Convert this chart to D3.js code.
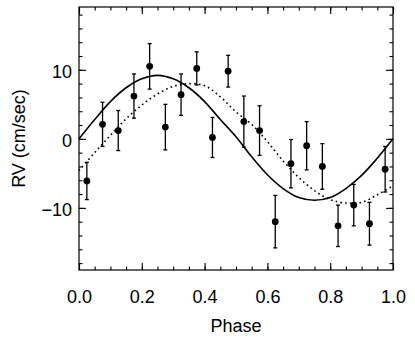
<!DOCTYPE html>
<html>
<head>
<meta charset="utf-8">
<script src="https://cdn.jsdelivr.net/npm/d3@7"></script>
<style>
  body { margin: 0; background: #fff; }
  text { font-family: "Liberation Sans", Arial, sans-serif; }
</style>
</head>
<body>
<div id="chart-area"></div>
<script>
const WIDTH = 415;
const HEIGHT = 339;

// binned RV points
const phases = [0.025, 0.075, 0.125, 0.175, 0.225, 0.275, 0.325, 0.375, 0.425, 0.475,
                0.525, 0.575, 0.625, 0.675, 0.725, 0.775, 0.825, 0.875, 0.925, 0.975];
const rv = [-6.1, 2.1, 1.2, 6.2, 10.5, 1.7, 6.4, 10.2, 0.2, 9.8,
            2.5, 1.2, -12.0, -3.6, -1.0, -4.0, -12.6, -9.6, -12.3, -4.4];
const rvErr = [2.7, 3.2, 2.9, 3.2, 3.3, 3.3, 3.0, 2.4, 2.9, 2.3,
               3.7, 3.6, 3.8, 3.5, 3.5, 3.3, 3.0, 3.0, 3.1, 3.3];

// model curves
const curvePhase = [0, 0.05, 0.1, 0.15, 0.2, 0.25, 0.3, 0.35, 0.4, 0.45, 0.5,
                    0.55, 0.6, 0.65, 0.7, 0.75, 0.8, 0.85, 0.9, 0.95, 1.0];
const solidRV = [0, 2.8, 5.4, 7.4, 8.7, 9.2, 8.7, 7.4, 5.4, 2.8, 0.3,
                 -2.6, -5.2, -7.2, -8.5, -8.9, -8.5, -7.2, -5.3, -2.8, 0];
const dottedRV = [-4.6, -2.0, 0.5, 2.9, 4.9, 6.5, 7.6, 8.0, 7.7, 6.1, 3.9,
                  2.1, -0.4, -3.2, -5.6, -7.5, -8.8, -9.3, -9.2, -8.1, -6.8];

// tick values
const xMajor = [0, 0.2, 0.4, 0.6, 0.8, 1.0];
const xMinor = d3.range(0, 1.0001, 0.05);
const yMajor = [-10, 0, 10];
const yMinor = d3.range(-18, 19, 2);

const margin = {top: 7, right: 22, bottom: 69, left: 79};
const graphWidth = WIDTH - margin.left - margin.right;
const graphHeight = HEIGHT - margin.top - margin.bottom;

const svg = d3.select("#chart-area").append("svg")
  .attr("width", WIDTH)
  .attr("height", HEIGHT);

const graph = svg.append("g")
  .attr("transform", `translate(${margin.left}, ${margin.top})`);

// scales
const x = d3.scaleLinear().domain([0, 1]).range([0, graphWidth]);
const y = d3.scaleLinear().domain([-19, 19.1]).range([graphHeight, 0]);

// frame
graph.append("rect")
  .attr("width", graphWidth)
  .attr("height", graphHeight)
  .attr("fill", "none")
  .attr("stroke", "#000")
  .attr("stroke-width", 1.2);

// axes, inward ticks on all four sides
const styleAxis = g => {
  g.select(".domain").remove();
  g.selectAll("line").attr("stroke", "#000").attr("stroke-width", 1.1);
  g.selectAll("text").attr("font-size", "18px").attr("fill", "#000")
    .attr("font-family", "'Liberation Sans', Arial, sans-serif");
};

// bottom
graph.append("g").attr("transform", `translate(0, ${graphHeight})`)
  .call(d3.axisBottom(x).tickValues(xMinor).tickSize(-3.5).tickFormat(""))
  .call(styleAxis);
graph.append("g").attr("transform", `translate(0, ${graphHeight})`)
  .call(d3.axisBottom(x).tickValues(xMajor).tickSize(-7).tickPadding(20).tickFormat(d3.format(".1f")))
  .call(styleAxis);
// top
graph.append("g")
  .call(d3.axisTop(x).tickValues(xMinor).tickSize(-3.5).tickFormat(""))
  .call(styleAxis);
graph.append("g")
  .call(d3.axisTop(x).tickValues(xMajor).tickSize(-7).tickFormat(""))
  .call(styleAxis);
// left
graph.append("g")
  .call(d3.axisLeft(y).tickValues(yMinor).tickSize(-3.5).tickFormat(""))
  .call(styleAxis);
graph.append("g")
  .call(d3.axisLeft(y).tickValues(yMajor).tickSize(-7).tickPadding(7).tickFormat(d3.format("d")))
  .call(styleAxis)
  .selectAll("text").attr("dy", "0.42em");
// right
graph.append("g").attr("transform", `translate(${graphWidth}, 0)`)
  .call(d3.axisRight(y).tickValues(yMinor).tickSize(-3.5).tickFormat(""))
  .call(styleAxis);
graph.append("g").attr("transform", `translate(${graphWidth}, 0)`)
  .call(d3.axisRight(y).tickValues(yMajor).tickSize(-7).tickFormat(""))
  .call(styleAxis);

// axis labels
svg.append("text")
  .attr("x", margin.left + graphWidth / 2)
  .attr("y", 332)
  .attr("font-size", "18px")
  .attr("text-anchor", "middle")
  .text("Phase");

svg.append("text")
  .attr("transform", `translate(25, ${margin.top + graphHeight / 2}) rotate(-90)`)
  .attr("font-size", "18px")
  .attr("text-anchor", "middle")
  .text("RV (cm/sec)");

// model curves
const line = d3.line()
  .x((d, i) => x(curvePhase[i]))
  .y(d => y(d))
  .curve(d3.curveCatmullRom);

graph.append("path")
  .datum(dottedRV)
  .attr("d", line)
  .attr("fill", "none")
  .attr("stroke", "#000")
  .attr("stroke-width", 1.6)
  .attr("stroke-dasharray", "1.6,3.2");

graph.append("path")
  .datum(solidRV)
  .attr("d", line)
  .attr("fill", "none")
  .attr("stroke", "#000")
  .attr("stroke-width", 1.6);

// error bars + points
const pts = phases.map((p, i) => ({p, v: rv[i], e: rvErr[i]}));

const bars = graph.selectAll(".err").data(pts).enter().append("g")
  .attr("class", "err")
  .attr("stroke", "#000")
  .attr("stroke-width", 1.3);

bars.append("line")
  .attr("x1", d => x(d.p)).attr("x2", d => x(d.p))
  .attr("y1", d => y(d.v + d.e)).attr("y2", d => y(d.v - d.e));
bars.append("line")
  .attr("x1", d => x(d.p) - 2).attr("x2", d => x(d.p) + 2)
  .attr("y1", d => y(d.v + d.e)).attr("y2", d => y(d.v + d.e));
bars.append("line")
  .attr("x1", d => x(d.p) - 2).attr("x2", d => x(d.p) + 2)
  .attr("y1", d => y(d.v - d.e)).attr("y2", d => y(d.v - d.e));

graph.selectAll("circle").data(pts).enter().append("circle")
  .attr("cx", d => x(d.p))
  .attr("cy", d => y(d.v))
  .attr("r", 3.4)
  .attr("fill", "#000");
</script>
</body>
</html>
